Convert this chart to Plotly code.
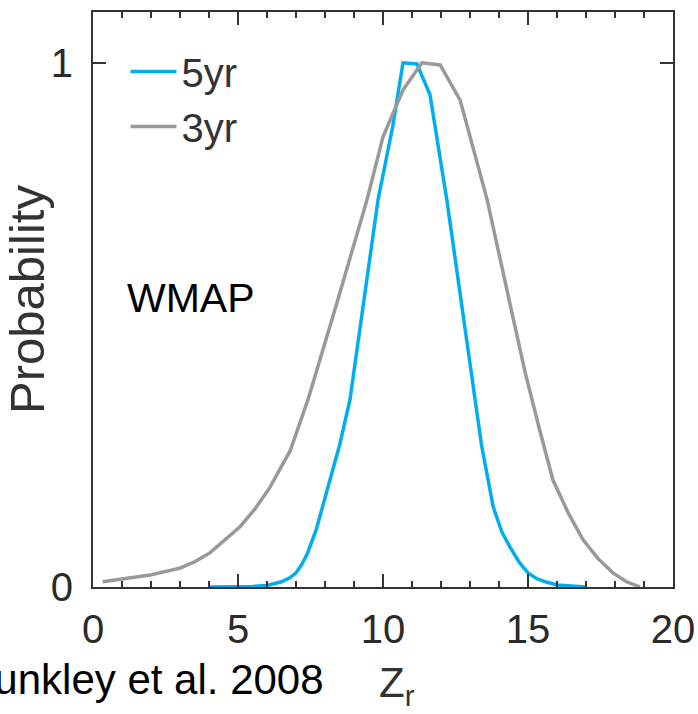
import plotly.graph_objects as go

# ---- data ----
z_5yr = [4.0, 5.0, 5.5, 6.0, 6.5, 6.8, 7.0, 7.2, 7.4, 7.7, 8.0, 8.5, 8.86, 9.4, 9.83, 10.34, 10.69,
         11.17, 11.62, 12.2, 12.7, 13.07, 13.4, 13.8, 14.1, 14.38, 14.7, 15.0, 15.3, 15.66, 16.0, 17.0]
p_5yr = [0.0, 0.0, 0.001, 0.003, 0.01, 0.018, 0.027, 0.043, 0.065, 0.11, 0.17, 0.27, 0.357, 0.57, 0.739, 0.88, 1.0,
         0.998, 0.939, 0.739, 0.54, 0.395, 0.27, 0.153, 0.105, 0.076, 0.047, 0.027, 0.016, 0.009, 0.004, 0.0]

z_3yr = [0.33, 1.0, 1.97, 3.0, 3.5, 4.03, 4.5, 5.07, 5.6, 6.1, 6.8, 7.41, 8.4, 9.45, 10.0, 10.69,
         11.34, 11.97, 12.66, 13.59, 14.3, 14.9, 15.4, 15.86, 16.4, 16.9, 17.4, 17.93, 18.4, 18.86]
p_3yr = [0.01, 0.015, 0.023, 0.036, 0.048, 0.065, 0.087, 0.115, 0.15, 0.19, 0.26, 0.357, 0.54, 0.739, 0.859, 0.948,
         1.0, 0.996, 0.929, 0.739, 0.56, 0.41, 0.3, 0.204, 0.14, 0.09, 0.055, 0.027, 0.01, 0.0]

x_ticks = [0, 5, 10, 15, 20]
y_ticks = [0, 1]

BLUE = "#00AEEF"
GREY = "#999999"
AX = "#333333"
FONT = "Liberation Sans, Arial, sans-serif"

fig = go.Figure()
fig.add_trace(go.Scatter(x=z_5yr, y=p_5yr, mode="lines", name="5yr",
                         line=dict(color=BLUE, width=3.5)))
fig.add_trace(go.Scatter(x=z_3yr, y=p_3yr, mode="lines", name="3yr",
                         line=dict(color=GREY, width=3.5)))

axis_common = dict(showgrid=False, zeroline=False, showline=True, linecolor=AX,
                   linewidth=2, mirror="ticks", ticks="inside", tickcolor=AX,
                   tickwidth=2, automargin=False,
                   tickfont=dict(family=FONT, size=40, color="#2a2a2a"))

fig.update_xaxes(range=[0, 20], tickvals=x_ticks, ticklen=13,
                 minor=dict(dtick=1, ticks="inside", ticklen=6, tickcolor=AX, tickwidth=2),
                 ticklabelstandoff=6, **axis_common)
fig.update_yaxes(range=[0, 1.097], tickvals=y_ticks, ticklen=13,
                 ticklabelstandoff=10,
                 title=dict(text="Probability", font=dict(family=FONT, size=49, color="#333333"),
                            standoff=8),
                 **axis_common)

fig.add_annotation(xref="paper", yref="paper", x=(191 - 93) / 580, y=(587 - 298) / 575,
                   text="WMAP", showarrow=False, xanchor="center", yanchor="middle",
                   font=dict(family=FONT, size=41, color="#000000"))
fig.add_annotation(xref="paper", yref="paper", x=(326 - 93) / 580, y=-(679 - 587) / 575,
                   text="Dunkley et al. 2008", showarrow=False, xanchor="right", yanchor="middle",
                   font=dict(family=FONT, size=42, color="#000000"))
fig.add_annotation(xref="paper", yref="paper", x=(397 - 93) / 580, y=-(685 - 587) / 575,
                   text="Z<sub>r</sub>", showarrow=False, xanchor="center", yanchor="middle",
                   font=dict(family=FONT, size=42, color="#333333"))

fig.update_layout(
    width=698, height=714,
    margin=dict(l=93, r=25, t=12, b=127, autoexpand=False),
    plot_bgcolor="white", paper_bgcolor="white",
    showlegend=True,
    legend=dict(x=0.056, y=0.953, xanchor="left", yanchor="top",
                bgcolor="rgba(0,0,0,0)", itemwidth=46, tracegroupgap=0,
                font=dict(family=FONT, size=40, color="#333333")),
)

fig.write_html("out.html")
